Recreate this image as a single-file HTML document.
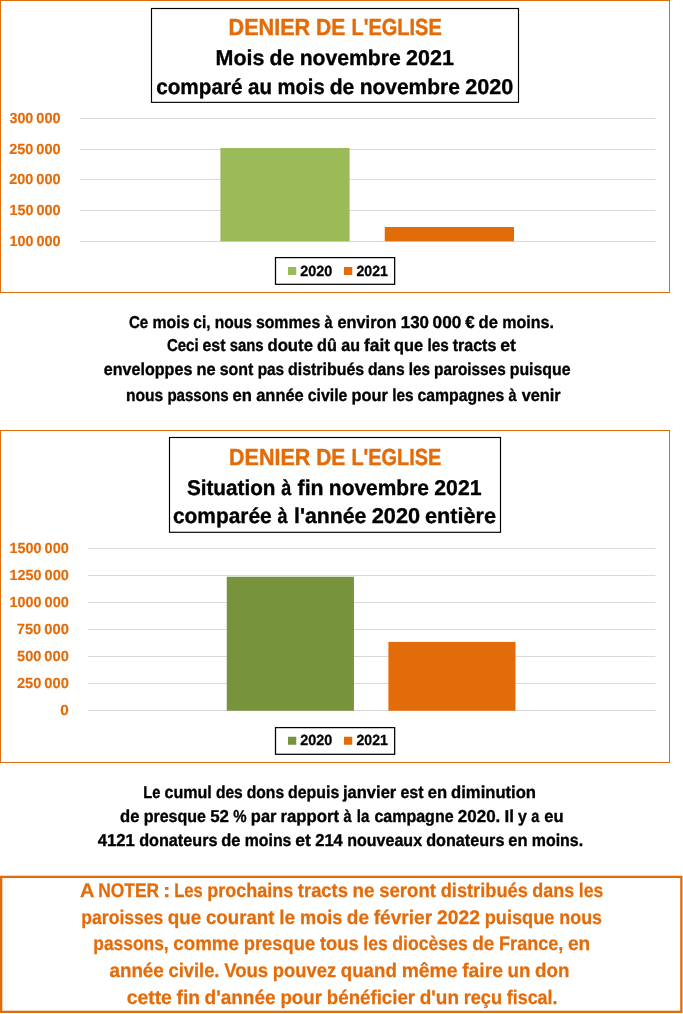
<!DOCTYPE html>
<html lang="fr">
<head>
<meta charset="utf-8">
<title>Denier de l'Eglise</title>
<style>
html,body{margin:0;padding:0;background:#fff;}
svg{display:block;}
text{font-family:"Liberation Sans",sans-serif;font-weight:bold;stroke-linejoin:round;text-rendering:geometricPrecision;}
</style>
</head>
<body>
<svg width="683" height="1014" viewBox="0 0 683 1014">
<rect x="0" y="0" width="683" height="1014" fill="#fff"/>
<!-- chart 1 -->
<rect x="0.5" y="0.5" width="669" height="292" fill="none" stroke="#E36C0A" stroke-width="1"/>
<line x1="79.8" x2="655.5" y1="118.5" y2="118.5" stroke="#D9D9D9" stroke-width="1"/>
<line x1="79.8" x2="655.5" y1="149.5" y2="149.5" stroke="#D9D9D9" stroke-width="1"/>
<line x1="79.8" x2="655.5" y1="179.5" y2="179.5" stroke="#D9D9D9" stroke-width="1"/>
<line x1="79.8" x2="655.5" y1="210.5" y2="210.5" stroke="#D9D9D9" stroke-width="1"/>
<line x1="79.8" x2="655.5" y1="241.5" y2="241.5" stroke="#D9D9D9" stroke-width="1"/>
<rect x="220.4" y="148" width="129.2" height="93.3" fill="#9BBB59"/>
<rect x="384.75" y="227" width="129.25" height="14.3" fill="#E36C0A"/>
<rect x="151.5" y="8.5" width="367" height="93.85" fill="#fff" stroke="#000" stroke-width="1.15"/>
<rect x="275.5" y="257.6" width="119.15" height="26.7" fill="#fff" stroke="#000" stroke-width="1.25"/>
<rect x="288" y="267" width="8.25" height="8" fill="#9BBB59"/>
<rect x="344" y="267" width="8.25" height="8" fill="#E36C0A"/>
<!-- chart 2 -->
<rect x="0.5" y="430.5" width="669" height="332" fill="none" stroke="#E36C0A" stroke-width="1"/>
<line x1="87.8" x2="655.5" y1="548.5" y2="548.5" stroke="#D9D9D9" stroke-width="1"/>
<line x1="87.8" x2="655.5" y1="575.5" y2="575.5" stroke="#D9D9D9" stroke-width="1"/>
<line x1="87.8" x2="655.5" y1="602.5" y2="602.5" stroke="#D9D9D9" stroke-width="1"/>
<line x1="87.8" x2="655.5" y1="629.5" y2="629.5" stroke="#D9D9D9" stroke-width="1"/>
<line x1="87.8" x2="655.5" y1="656.5" y2="656.5" stroke="#D9D9D9" stroke-width="1"/>
<line x1="87.8" x2="655.5" y1="683.5" y2="683.5" stroke="#D9D9D9" stroke-width="1"/>
<line x1="87.8" x2="655.5" y1="710.5" y2="710.5" stroke="#D9D9D9" stroke-width="1"/>
<rect x="226.75" y="576.75" width="127.2" height="134" fill="#77933C"/>
<rect x="388.4" y="641.9" width="127.1" height="68.85" fill="#E36C0A"/>
<rect x="169.5" y="437.5" width="331" height="94.8" fill="#fff" stroke="#000" stroke-width="1.15"/>
<rect x="275.5" y="727.6" width="119.15" height="26.7" fill="#fff" stroke="#000" stroke-width="1.25"/>
<rect x="288" y="736.75" width="8.25" height="8" fill="#77933C"/>
<rect x="344" y="736.75" width="8.25" height="8" fill="#E36C0A"/>
<!-- note box -->
<rect x="1.15" y="876.85" width="680.2" height="135" fill="none" stroke="#E36C0A" stroke-width="2.3"/>
<text id="t1a" y="35" font-size="23.2" fill="#E36C0A" stroke="#E36C0A" stroke-width="0.4"><tspan x="228.55" textLength="81.70" lengthAdjust="spacingAndGlyphs">DENIER</tspan> <tspan x="316.11" textLength="29.32" lengthAdjust="spacingAndGlyphs">DE</tspan> <tspan x="351.51" textLength="90.27" lengthAdjust="spacingAndGlyphs">L'EGLISE</tspan></text>
<text id="t1b" y="65" font-size="21.4" fill="#000000" stroke="#000000" stroke-width="0.35"><tspan x="215.56" textLength="48.89" lengthAdjust="spacingAndGlyphs">Mois</tspan> <tspan x="269.40" textLength="24.83" lengthAdjust="spacingAndGlyphs">de</tspan> <tspan x="299.63" textLength="101.04" lengthAdjust="spacingAndGlyphs">novembre</tspan> <tspan x="406.09" textLength="47.76" lengthAdjust="spacingAndGlyphs">2021</tspan></text>
<text id="t1c" y="94" font-size="21.4" fill="#000000" stroke="#000000" stroke-width="0.35"><tspan x="156.19" textLength="86.34" lengthAdjust="spacingAndGlyphs">comparé</tspan> <tspan x="248.10" textLength="23.95" lengthAdjust="spacingAndGlyphs">au</tspan> <tspan x="277.59" textLength="47.09" lengthAdjust="spacingAndGlyphs">mois</tspan> <tspan x="329.63" textLength="24.64" lengthAdjust="spacingAndGlyphs">de</tspan> <tspan x="359.63" textLength="100.28" lengthAdjust="spacingAndGlyphs">novembre</tspan> <tspan x="465.28" textLength="48.11" lengthAdjust="spacingAndGlyphs">2020</tspan></text>
<text id="y1a" y="123.25" font-size="14.7" fill="#E36C0A" stroke="#E36C0A" stroke-width="0.15"><tspan x="9.47" textLength="23.84" lengthAdjust="spacingAndGlyphs">300</tspan> <tspan x="36.34" textLength="24.36" lengthAdjust="spacingAndGlyphs">000</tspan></text>
<text id="y1b" y="153.75" font-size="14.7" fill="#E36C0A" stroke="#E36C0A" stroke-width="0.15"><tspan x="9.30" textLength="24.05" lengthAdjust="spacingAndGlyphs">250</tspan> <tspan x="36.36" textLength="24.34" lengthAdjust="spacingAndGlyphs">000</tspan></text>
<text id="y1c" y="184.25" font-size="14.7" fill="#E36C0A" stroke="#E36C0A" stroke-width="0.15"><tspan x="9.30" textLength="24.05" lengthAdjust="spacingAndGlyphs">200</tspan> <tspan x="36.36" textLength="24.34" lengthAdjust="spacingAndGlyphs">000</tspan></text>
<text id="y1d" y="215" font-size="14.7" fill="#E36C0A" stroke="#E36C0A" stroke-width="0.15"><tspan x="9.60" textLength="23.84" lengthAdjust="spacingAndGlyphs">150</tspan> <tspan x="36.45" textLength="24.25" lengthAdjust="spacingAndGlyphs">000</tspan></text>
<text id="y1e" y="245.5" font-size="14.7" fill="#E36C0A" stroke="#E36C0A" stroke-width="0.15"><tspan x="9.60" textLength="23.84" lengthAdjust="spacingAndGlyphs">100</tspan> <tspan x="36.45" textLength="24.25" lengthAdjust="spacingAndGlyphs">000</tspan></text>
<text id="l1a" y="275.6" font-size="14.7" fill="#000000" stroke="#000000" stroke-width="0.3"><tspan x="300.25" textLength="32.09" lengthAdjust="spacingAndGlyphs">2020</tspan></text>
<text id="l1b" y="275.6" font-size="14.7" fill="#000000" stroke="#000000" stroke-width="0.3"><tspan x="356.51" textLength="31.38" lengthAdjust="spacingAndGlyphs">2021</tspan></text>
<text id="p1a" y="327.5" font-size="17.2" fill="#000000" stroke="#000000" stroke-width="0.35"><tspan x="128.88" textLength="19.28" lengthAdjust="spacingAndGlyphs">Ce</tspan> <tspan x="152.50" textLength="36.95" lengthAdjust="spacingAndGlyphs">mois</tspan> <tspan x="193.34" textLength="17.17" lengthAdjust="spacingAndGlyphs">ci,</tspan> <tspan x="214.75" textLength="37.22" lengthAdjust="spacingAndGlyphs">nous</tspan> <tspan x="255.88" textLength="64.33" lengthAdjust="spacingAndGlyphs">sommes</tspan> <tspan x="324.40" textLength="8.04" lengthAdjust="spacingAndGlyphs">à</tspan> <tspan x="337.44" textLength="59.04" lengthAdjust="spacingAndGlyphs">environ</tspan> <tspan x="400.78" textLength="28.25" lengthAdjust="spacingAndGlyphs">130</tspan> <tspan x="432.59" textLength="28.73" lengthAdjust="spacingAndGlyphs">000</tspan> <tspan x="465.34" textLength="9.41" lengthAdjust="spacingAndGlyphs">€</tspan> <tspan x="478.60" textLength="19.34" lengthAdjust="spacingAndGlyphs">de</tspan> <tspan x="502.21" textLength="51.65" lengthAdjust="spacingAndGlyphs">moins.</tspan></text>
<text id="p1b" y="351.25" font-size="17.2" fill="#000000" stroke="#000000" stroke-width="0.35"><tspan x="166.88" textLength="31.73" lengthAdjust="spacingAndGlyphs">Ceci</tspan> <tspan x="202.50" textLength="22.99" lengthAdjust="spacingAndGlyphs">est</tspan> <tspan x="229.67" textLength="33.89" lengthAdjust="spacingAndGlyphs">sans</tspan> <tspan x="267.46" textLength="45.47" lengthAdjust="spacingAndGlyphs">doute</tspan> <tspan x="316.99" textLength="19.83" lengthAdjust="spacingAndGlyphs">dû</tspan> <tspan x="341.21" textLength="18.74" lengthAdjust="spacingAndGlyphs">au</tspan> <tspan x="364.06" textLength="25.89" lengthAdjust="spacingAndGlyphs">fait</tspan> <tspan x="394.07" textLength="29.16" lengthAdjust="spacingAndGlyphs">que</tspan> <tspan x="427.45" textLength="21.25" lengthAdjust="spacingAndGlyphs">les</tspan> <tspan x="452.69" textLength="43.70" lengthAdjust="spacingAndGlyphs">tracts</tspan> <tspan x="500.23" textLength="15.73" lengthAdjust="spacingAndGlyphs">et</tspan></text>
<text id="p1c" y="375" font-size="17.2" fill="#000000" stroke="#000000" stroke-width="0.35"><tspan x="103.87" textLength="88.48" lengthAdjust="spacingAndGlyphs">enveloppes</tspan> <tspan x="196.38" textLength="19.18" lengthAdjust="spacingAndGlyphs">ne</tspan> <tspan x="219.64" textLength="33.65" lengthAdjust="spacingAndGlyphs">sont</tspan> <tspan x="257.63" textLength="26.47" lengthAdjust="spacingAndGlyphs">pas</tspan> <tspan x="288.04" textLength="76.11" lengthAdjust="spacingAndGlyphs">distribués</tspan> <tspan x="368.06" textLength="36.57" lengthAdjust="spacingAndGlyphs">dans</tspan> <tspan x="408.69" textLength="21.31" lengthAdjust="spacingAndGlyphs">les</tspan> <tspan x="434.12" textLength="71.55" lengthAdjust="spacingAndGlyphs">paroisses</tspan> <tspan x="509.75" textLength="60.79" lengthAdjust="spacingAndGlyphs">puisque</tspan></text>
<text id="p1d" y="400.75" font-size="17.2" fill="#000000" stroke="#000000" stroke-width="0.35"><tspan x="125.97" textLength="37.30" lengthAdjust="spacingAndGlyphs">nous</tspan> <tspan x="167.40" textLength="61.17" lengthAdjust="spacingAndGlyphs">passons</tspan> <tspan x="232.53" textLength="19.40" lengthAdjust="spacingAndGlyphs">en</tspan> <tspan x="256.24" textLength="47.49" lengthAdjust="spacingAndGlyphs">année</tspan> <tspan x="307.79" textLength="39.58" lengthAdjust="spacingAndGlyphs">civile</tspan> <tspan x="351.61" textLength="36.36" lengthAdjust="spacingAndGlyphs">pour</tspan> <tspan x="392.24" textLength="21.36" lengthAdjust="spacingAndGlyphs">les</tspan> <tspan x="417.51" textLength="86.76" lengthAdjust="spacingAndGlyphs">campagnes</tspan> <tspan x="508.49" textLength="8.04" lengthAdjust="spacingAndGlyphs">à</tspan> <tspan x="521.65" textLength="39.10" lengthAdjust="spacingAndGlyphs">venir</tspan></text>
<text id="t2a" y="465" font-size="23.2" fill="#E36C0A" stroke="#E36C0A" stroke-width="0.4"><tspan x="229.06" textLength="81.31" lengthAdjust="spacingAndGlyphs">DENIER</tspan> <tspan x="316.20" textLength="29.18" lengthAdjust="spacingAndGlyphs">DE</tspan> <tspan x="351.44" textLength="89.84" lengthAdjust="spacingAndGlyphs">L'EGLISE</tspan></text>
<text id="t2b" y="494.5" font-size="21.4" fill="#000000" stroke="#000000" stroke-width="0.35"><tspan x="186.90" textLength="88.62" lengthAdjust="spacingAndGlyphs">Situation</tspan> <tspan x="281.14" textLength="10.00" lengthAdjust="spacingAndGlyphs">à</tspan> <tspan x="297.56" textLength="26.05" lengthAdjust="spacingAndGlyphs">fin</tspan> <tspan x="328.87" textLength="100.07" lengthAdjust="spacingAndGlyphs">novembre</tspan> <tspan x="434.30" textLength="47.30" lengthAdjust="spacingAndGlyphs">2021</tspan></text>
<text id="t2c" y="523.4" font-size="21.4" fill="#000000" stroke="#000000" stroke-width="0.35"><tspan x="172.93" textLength="98.73" lengthAdjust="spacingAndGlyphs">comparée</tspan> <tspan x="277.41" textLength="10.03" lengthAdjust="spacingAndGlyphs">à</tspan> <tspan x="294.02" textLength="72.33" lengthAdjust="spacingAndGlyphs">l'année</tspan> <tspan x="371.74" textLength="48.37" lengthAdjust="spacingAndGlyphs">2020</tspan> <tspan x="424.94" textLength="71.05" lengthAdjust="spacingAndGlyphs">entière</tspan></text>
<text id="y2a" y="552.5" font-size="14.7" fill="#E36C0A" stroke="#E36C0A" stroke-width="0.15"><tspan x="9.60" textLength="31.91" lengthAdjust="spacingAndGlyphs">1500</tspan> <tspan x="44.53" textLength="24.37" lengthAdjust="spacingAndGlyphs">000</tspan></text>
<text id="y2b" y="579.5" font-size="14.7" fill="#E36C0A" stroke="#E36C0A" stroke-width="0.15"><tspan x="9.60" textLength="31.91" lengthAdjust="spacingAndGlyphs">1250</tspan> <tspan x="44.53" textLength="24.37" lengthAdjust="spacingAndGlyphs">000</tspan></text>
<text id="y2c" y="606.5" font-size="14.7" fill="#E36C0A" stroke="#E36C0A" stroke-width="0.15"><tspan x="9.60" textLength="31.91" lengthAdjust="spacingAndGlyphs">1000</tspan> <tspan x="44.53" textLength="24.37" lengthAdjust="spacingAndGlyphs">000</tspan></text>
<text id="y2d" y="633.5" font-size="14.7" fill="#E36C0A" stroke="#E36C0A" stroke-width="0.15"><tspan x="16.87" textLength="24.36" lengthAdjust="spacingAndGlyphs">750</tspan> <tspan x="44.28" textLength="24.63" lengthAdjust="spacingAndGlyphs">000</tspan></text>
<text id="y2e" y="660.5" font-size="14.7" fill="#E36C0A" stroke="#E36C0A" stroke-width="0.15"><tspan x="17.05" textLength="24.27" lengthAdjust="spacingAndGlyphs">500</tspan> <tspan x="44.36" textLength="24.54" lengthAdjust="spacingAndGlyphs">000</tspan></text>
<text id="y2f" y="687.5" font-size="14.7" fill="#E36C0A" stroke="#E36C0A" stroke-width="0.15"><tspan x="17.00" textLength="24.29" lengthAdjust="spacingAndGlyphs">250</tspan> <tspan x="44.32" textLength="24.58" lengthAdjust="spacingAndGlyphs">000</tspan></text>
<text id="y2g" y="714.5" font-size="14.7" fill="#E36C0A" stroke="#E36C0A" stroke-width="0.15"><tspan x="60.39" textLength="8.54" lengthAdjust="spacingAndGlyphs">0</tspan></text>
<text id="l2a" y="745.4" font-size="14.7" fill="#000000" stroke="#000000" stroke-width="0.3"><tspan x="300.25" textLength="32.09" lengthAdjust="spacingAndGlyphs">2020</tspan></text>
<text id="l2b" y="745.4" font-size="14.7" fill="#000000" stroke="#000000" stroke-width="0.3"><tspan x="356.51" textLength="31.38" lengthAdjust="spacingAndGlyphs">2021</tspan></text>
<text id="p2a" y="798.25" font-size="17.2" fill="#000000" stroke="#000000" stroke-width="0.35"><tspan x="143.27" textLength="17.08" lengthAdjust="spacingAndGlyphs">Le</tspan> <tspan x="164.46" textLength="47.34" lengthAdjust="spacingAndGlyphs">cumul</tspan> <tspan x="215.90" textLength="26.86" lengthAdjust="spacingAndGlyphs">des</tspan> <tspan x="246.70" textLength="37.43" lengthAdjust="spacingAndGlyphs">dons</tspan> <tspan x="288.05" textLength="51.29" lengthAdjust="spacingAndGlyphs">depuis</tspan> <tspan x="343.01" textLength="53.28" lengthAdjust="spacingAndGlyphs">janvier</tspan> <tspan x="400.44" textLength="23.09" lengthAdjust="spacingAndGlyphs">est</tspan> <tspan x="427.71" textLength="19.38" lengthAdjust="spacingAndGlyphs">en</tspan> <tspan x="451.10" textLength="84.93" lengthAdjust="spacingAndGlyphs">diminution</tspan></text>
<text id="p2b" y="822" font-size="17.2" fill="#000000" stroke="#000000" stroke-width="0.35"><tspan x="120.07" textLength="19.37" lengthAdjust="spacingAndGlyphs">de</tspan> <tspan x="143.67" textLength="62.33" lengthAdjust="spacingAndGlyphs">presque</tspan> <tspan x="210.21" textLength="18.78" lengthAdjust="spacingAndGlyphs">52</tspan> <tspan x="233.23" textLength="13.34" lengthAdjust="spacingAndGlyphs">%</tspan> <tspan x="250.85" textLength="25.60" lengthAdjust="spacingAndGlyphs">par</tspan> <tspan x="280.55" textLength="58.57" lengthAdjust="spacingAndGlyphs">rapport</tspan> <tspan x="343.57" textLength="8.04" lengthAdjust="spacingAndGlyphs">à</tspan> <tspan x="356.77" textLength="12.55" lengthAdjust="spacingAndGlyphs">la</tspan> <tspan x="374.43" textLength="79.15" lengthAdjust="spacingAndGlyphs">campagne</tspan> <tspan x="457.81" textLength="42.51" lengthAdjust="spacingAndGlyphs">2020.</tspan> <tspan x="504.57" textLength="9.42" lengthAdjust="spacingAndGlyphs">Il</tspan> <tspan x="518.00" textLength="8.86" lengthAdjust="spacingAndGlyphs">y</tspan> <tspan x="531.19" textLength="8.04" lengthAdjust="spacingAndGlyphs">a</tspan> <tspan x="544.29" textLength="19.30" lengthAdjust="spacingAndGlyphs">eu</tspan></text>
<text id="p2c" y="845.75" font-size="17.2" fill="#000000" stroke="#000000" stroke-width="0.35"><tspan x="97.75" textLength="37.14" lengthAdjust="spacingAndGlyphs">4121</tspan> <tspan x="139.16" textLength="78.29" lengthAdjust="spacingAndGlyphs">donateurs</tspan> <tspan x="221.30" textLength="19.22" lengthAdjust="spacingAndGlyphs">de</tspan> <tspan x="244.78" textLength="46.60" lengthAdjust="spacingAndGlyphs">moins</tspan> <tspan x="295.22" textLength="15.69" lengthAdjust="spacingAndGlyphs">et</tspan> <tspan x="315.16" textLength="27.70" lengthAdjust="spacingAndGlyphs">214</tspan> <tspan x="347.25" textLength="74.82" lengthAdjust="spacingAndGlyphs">nouveaux</tspan> <tspan x="426.15" textLength="78.29" lengthAdjust="spacingAndGlyphs">donateurs</tspan> <tspan x="508.32" textLength="19.25" lengthAdjust="spacingAndGlyphs">en</tspan> <tspan x="531.76" textLength="51.34" lengthAdjust="spacingAndGlyphs">moins.</tspan></text>
<text id="n1" y="897" font-size="19.7" fill="#E36C0A" stroke="#E36C0A" stroke-width="0.25"><tspan x="80.03" textLength="13.74" lengthAdjust="spacingAndGlyphs">A</tspan> <tspan x="98.15" textLength="60.99" lengthAdjust="spacingAndGlyphs">NOTER</tspan> <tspan x="163.03" textLength="7.35" lengthAdjust="spacingAndGlyphs">:</tspan> <tspan x="174.23" textLength="28.51" lengthAdjust="spacingAndGlyphs">Les</tspan> <tspan x="207.29" textLength="85.99" lengthAdjust="spacingAndGlyphs">prochains</tspan> <tspan x="297.83" textLength="50.16" lengthAdjust="spacingAndGlyphs">tracts</tspan> <tspan x="352.60" textLength="21.96" lengthAdjust="spacingAndGlyphs">ne</tspan> <tspan x="379.22" textLength="56.70" lengthAdjust="spacingAndGlyphs">seront</tspan> <tspan x="440.69" textLength="87.13" lengthAdjust="spacingAndGlyphs">distribués</tspan> <tspan x="532.31" textLength="41.87" lengthAdjust="spacingAndGlyphs">dans</tspan> <tspan x="578.82" textLength="24.40" lengthAdjust="spacingAndGlyphs">les</tspan></text>
<text id="n2" y="924" font-size="19.7" fill="#E36C0A" stroke="#E36C0A" stroke-width="0.25"><tspan x="81.34" textLength="82.03" lengthAdjust="spacingAndGlyphs">paroisses</tspan> <tspan x="167.85" textLength="33.52" lengthAdjust="spacingAndGlyphs">que</tspan> <tspan x="206.00" textLength="68.39" lengthAdjust="spacingAndGlyphs">courant</tspan> <tspan x="279.23" textLength="15.92" lengthAdjust="spacingAndGlyphs">le</tspan> <tspan x="300.05" textLength="42.35" lengthAdjust="spacingAndGlyphs">mois</tspan> <tspan x="346.86" textLength="22.17" lengthAdjust="spacingAndGlyphs">de</tspan> <tspan x="373.68" textLength="58.41" lengthAdjust="spacingAndGlyphs">février</tspan> <tspan x="436.95" textLength="42.94" lengthAdjust="spacingAndGlyphs">2022</tspan> <tspan x="484.72" textLength="69.69" lengthAdjust="spacingAndGlyphs">puisque</tspan> <tspan x="559.32" textLength="42.66" lengthAdjust="spacingAndGlyphs">nous</tspan></text>
<text id="n3" y="950" font-size="19.7" fill="#E36C0A" stroke="#E36C0A" stroke-width="0.25"><tspan x="93.35" textLength="75.32" lengthAdjust="spacingAndGlyphs">passons,</tspan> <tspan x="173.30" textLength="65.59" lengthAdjust="spacingAndGlyphs">comme</tspan> <tspan x="243.74" textLength="71.38" lengthAdjust="spacingAndGlyphs">presque</tspan> <tspan x="319.90" textLength="38.82" lengthAdjust="spacingAndGlyphs">tous</tspan> <tspan x="363.37" textLength="24.45" lengthAdjust="spacingAndGlyphs">les</tspan> <tspan x="392.36" textLength="75.36" lengthAdjust="spacingAndGlyphs">diocèses</tspan> <tspan x="472.19" textLength="22.18" lengthAdjust="spacingAndGlyphs">de</tspan> <tspan x="499.08" textLength="64.24" lengthAdjust="spacingAndGlyphs">France,</tspan> <tspan x="567.97" textLength="22.21" lengthAdjust="spacingAndGlyphs">en</tspan></text>
<text id="n4" y="977" font-size="19.7" fill="#E36C0A" stroke="#E36C0A" stroke-width="0.25"><tspan x="109.45" textLength="54.36" lengthAdjust="spacingAndGlyphs">année</tspan> <tspan x="168.45" textLength="51.02" lengthAdjust="spacingAndGlyphs">civile.</tspan> <tspan x="224.14" textLength="44.08" lengthAdjust="spacingAndGlyphs">Vous</tspan> <tspan x="272.87" textLength="63.33" lengthAdjust="spacingAndGlyphs">pouvez</tspan> <tspan x="340.77" textLength="56.03" lengthAdjust="spacingAndGlyphs">quand</tspan> <tspan x="401.70" textLength="55.80" lengthAdjust="spacingAndGlyphs">même</tspan> <tspan x="462.16" textLength="40.73" lengthAdjust="spacingAndGlyphs">faire</tspan> <tspan x="507.61" textLength="22.86" lengthAdjust="spacingAndGlyphs">un</tspan> <tspan x="535.09" textLength="34.32" lengthAdjust="spacingAndGlyphs">don</tspan></text>
<text id="n5" y="1004" font-size="19.7" fill="#E36C0A" stroke="#E36C0A" stroke-width="0.25"><tspan x="126.75" textLength="45.10" lengthAdjust="spacingAndGlyphs">cette</tspan> <tspan x="176.50" textLength="23.49" lengthAdjust="spacingAndGlyphs">fin</tspan> <tspan x="204.57" textLength="70.99" lengthAdjust="spacingAndGlyphs">d'année</tspan> <tspan x="280.38" textLength="41.60" lengthAdjust="spacingAndGlyphs">pour</tspan> <tspan x="326.86" textLength="88.18" lengthAdjust="spacingAndGlyphs">bénéficier</tspan> <tspan x="419.73" textLength="39.26" lengthAdjust="spacingAndGlyphs">d'un</tspan> <tspan x="463.65" textLength="38.42" lengthAdjust="spacingAndGlyphs">reçu</tspan> <tspan x="506.85" textLength="50.63" lengthAdjust="spacingAndGlyphs">fiscal.</tspan></text>
</svg>
</body>
</html>
